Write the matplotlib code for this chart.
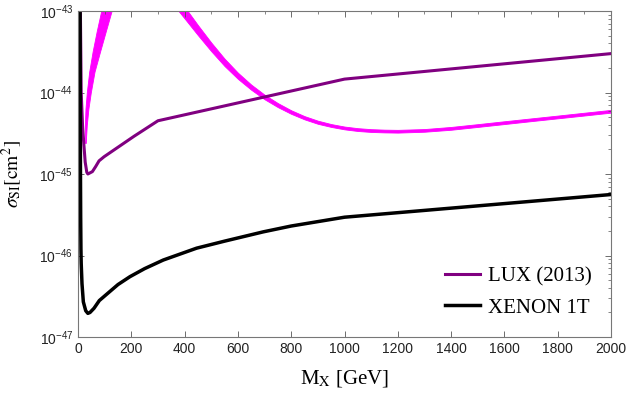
import matplotlib.pyplot as plt
from matplotlib.ticker import MultipleLocator, FixedLocator, LogLocator, NullFormatter

plt.rcParams['font.family'] = ['Liberation Sans', 'DejaVu Sans']
plt.rcParams['mathtext.fontset'] = 'stix'

# LUX (2013) limit
lux_mass = [9, 12, 17, 22, 27, 33, 37, 54, 66, 79, 98, 210, 300, 1000, 2000]
lux_sigma = [1e-43, 1e-44, 4e-45, 2.3e-45, 1.4e-45, 1.05e-45, 1.0e-45, 1.07e-45,
             1.23e-45, 1.45e-45, 1.63e-45, 2.9e-45, 4.5e-45, 1.46e-44, 3.0e-44]

# XENON 1T projection
xenon_mass = [7.5, 8.5, 9, 10, 11, 12, 15, 20, 29, 37, 45, 60, 80, 110, 150, 195,
              250, 320, 445, 550, 695, 800, 1000, 2000]
xenon_sigma = [2e-43, 1e-44, 1.5e-45, 3e-46, 1.2e-46, 8e-47, 4.5e-47, 2.7e-47, 2.1e-47,
               1.95e-47, 2.0e-47, 2.25e-47, 2.8e-47, 3.4e-47, 4.4e-47, 5.5e-47,
               6.9e-47, 8.8e-47, 1.23e-46, 1.5e-46, 1.95e-46, 2.3e-46, 2.95e-46, 5.6e-46]

# magenta band, low mass branch (mass range for each cross section)
band1_sigma = [2.4e-45, 4e-45, 6.3e-45, 1e-44, 1.8e-44, 3.2e-44, 5.6e-44, 1e-43, 1.2e-43]
band1_left = [27, 26, 28, 33, 42, 55, 70, 87, 93]
band1_right = [29, 33, 39, 48, 62, 83, 104, 126, 134]

# magenta band, high mass branch (in units of 1e-44 cm^2)
band2_mass = [370, 400, 450, 500, 550, 600, 650, 700, 750, 800, 850, 900, 950, 1000,
              1050, 1100, 1150, 1200, 1300, 1400, 1500, 1600, 1700, 1800, 1900, 2000]
band2_lo = [10.72, 8.09, 5.05, 3.21, 2.11, 1.47, 1.08, 0.826, 0.661, 0.547, 0.468,
            0.413, 0.378, 0.353, 0.337, 0.328, 0.324, 0.322, 0.330, 0.349, 0.378,
            0.410, 0.445, 0.482, 0.522, 0.566]
band2_hi = [15.49, 11.27, 6.71, 4.10, 2.60, 1.75, 1.25, 0.940, 0.741, 0.605, 0.513,
            0.451, 0.410, 0.382, 0.365, 0.355, 0.350, 0.348, 0.356, 0.378, 0.409,
            0.444, 0.481, 0.521, 0.565, 0.612]

fig = plt.figure(figsize=(6.27, 4.0), dpi=100)
ax = fig.add_axes([78 / 627, 1 - 337 / 400, 533 / 627, 326 / 400])

ax.fill_betweenx(band1_sigma, band1_left, band1_right, color='#ff00ff', lw=0.6)
ax.fill_between(band2_mass, [v * 1e-44 for v in band2_lo], [v * 1e-44 for v in band2_hi],
                color='#ff00ff', lw=0.6)

lux_line, = ax.plot(lux_mass, lux_sigma, color='#800080', lw=2.2, label='LUX (2013)')
xenon_line, = ax.plot(xenon_mass, xenon_sigma, color='black', lw=2.5, label='XENON 1T')

ax.set_yscale('log')
ax.set_xlim(0, 2000)
ax.set_ylim(1e-47, 1e-43)

ax.xaxis.set_major_locator(MultipleLocator(200))
ax.xaxis.set_minor_locator(MultipleLocator(100))
ax.yaxis.set_major_locator(FixedLocator([1e-47, 1e-46, 1e-45, 1e-44, 1e-43]))
ax.yaxis.set_minor_locator(LogLocator(base=10, subs=range(2, 10), numticks=10))
ax.yaxis.set_minor_formatter(NullFormatter())

ax.tick_params(which='major', direction='in', top=True, right=True, length=4,
               width=0.6, color='#555555', labelsize=10, labelcolor='#222222')
ax.tick_params(which='minor', direction='in', bottom=False, left=False, top=True,
               right=True, length=2.5, width=0.5, color='#555555')
for sp in ax.spines.values():
    sp.set_color('#777777')
    sp.set_linewidth(0.8)

ax.set_xlabel(r'M$_{\rm X}$ [GeV]', fontsize=15, family='Liberation Serif')
ax.set_ylabel(r'$\sigma_{\rm SI}[{\rm cm}^2]$', fontsize=14)
ax.xaxis.set_label_coords(0.5, -0.095)
ax.yaxis.set_label_coords(-0.101, 0.5)

ax.legend(handles=[lux_line, xenon_line], loc='upper left',
          bbox_to_anchor=(445 / 627, 1 - 267 / 400), bbox_transform=fig.transFigure,
          frameon=False, prop={'family': 'Liberation Serif', 'size': 15},
          borderpad=0, borderaxespad=0, handlelength=1.68, handletextpad=0.38,
          labelspacing=0.55)

fig.savefig('out.png', dpi=100)
